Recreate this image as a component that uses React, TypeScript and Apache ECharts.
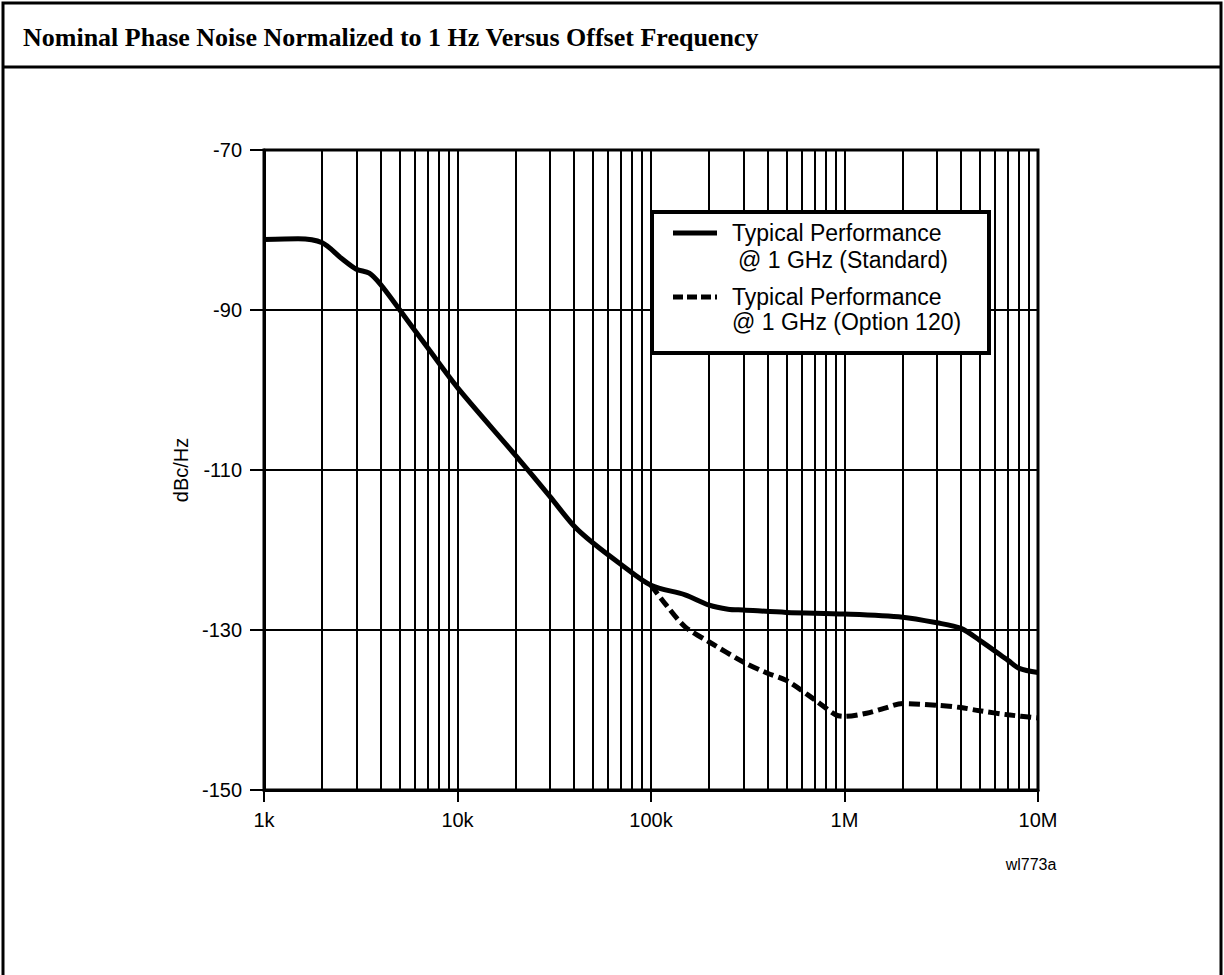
import React, { useEffect, useRef } from "react";
import * as echarts from "echarts";

const titleText = "Nominal Phase Noise Normalized to 1 Hz Versus Offset Frequency";
const yAxisName = "dBc/Hz";
const figureId = "wl773a";

const xTickValues = [1e3, 1e4, 1e5, 1e6, 1e7];
const xTickLabels = ["1k", "10k", "100k", "1M", "10M"];
const yLabelValues = [-150, -130, -110, -90, -70];
const minorFreqs = [
  2e3, 3e3, 4e3, 5e3, 6e3, 7e3, 8e3, 9e3,
  2e4, 3e4, 4e4, 5e4, 6e4, 7e4, 8e4, 9e4,
  2e5, 3e5, 4e5, 5e5, 6e5, 7e5, 8e5, 9e5,
  2e6, 3e6, 4e6, 5e6, 6e6, 7e6, 8e6, 9e6,
];

const stdName = "Typical Performance\n @ 1 GHz (Standard)";
const optName = "Typical Performance\n@ 1 GHz (Option 120)";

const stdFreq = [
  1000, 1500, 2000, 2500, 3000, 3500, 4000, 5000, 7000, 10000, 20000, 30000,
  40000, 50000, 70000, 100000, 150000, 200000, 250000, 300000, 500000, 1e6,
  2e6, 3e6, 4e6, 5e6, 7e6, 8e6, 1e7,
];
const stdValues = [
  -81.2, -81.1, -81.6, -83.5, -84.9, -85.4, -86.8, -89.9, -94.7, -99.7, -108.2,
  -113.3, -117.0, -119.1, -121.8, -124.4, -125.6, -126.9, -127.4, -127.5,
  -127.8, -128.0, -128.4, -129.1, -129.8, -131.3, -133.8, -134.8, -135.3,
];

const optFreq = [
  100000, 120000, 150000, 200000, 300000, 400000, 500000, 700000, 900000, 1e6,
  1.3e6, 1.6e6, 2e6, 3e6, 4e6, 5e6, 7e6, 1e7,
];
const optValues = [
  -124.4, -126.9, -129.6, -131.5, -134.0, -135.4, -136.3, -138.7, -140.6,
  -140.8, -140.4, -139.8, -139.2, -139.4, -139.7, -140.1, -140.6, -141.0,
];

const FONT = "'Liberation Sans', Arial, sans-serif";

export default function App() {
  const ref = useRef<HTMLDivElement>(null);

  useEffect(() => {
    if (!ref.current) return;
    const chart = echarts.init(ref.current, undefined, { renderer: "svg" });

    const option: any = {
      animation: false,
      backgroundColor: "#fff",
      title: {
        text: titleText,
        left: 18,
        top: 19,
        textStyle: {
          fontFamily: "'Liberation Serif', 'Times New Roman', serif",
          fontWeight: "bold",
          fontSize: 26,
          color: "#000",
        },
      },
      grid: {
        left: 264,
        top: 150,
        width: 774,
        height: 640,
        show: true,
        borderColor: "#000",
        borderWidth: 3,
        backgroundColor: "transparent",
      },
      xAxis: {
        type: "log",
        logBase: 10,
        min: 1000,
        max: 1e7,
        axisLine: { show: true, lineStyle: { color: "#000", width: 3 } },
        axisTick: { show: true, length: 12, lineStyle: { color: "#000", width: 2 } },
        axisLabel: {
          color: "#000",
          fontFamily: FONT,
          fontSize: 20,
          margin: 20,
          formatter: (v: number) => {
            const i = xTickValues.findIndex((t) => Math.abs(Math.log10(t) - Math.log10(v)) < 1e-6);
            return i >= 0 ? xTickLabels[i] : "";
          },
        },
        splitLine: { show: true, lineStyle: { color: "#000", width: 2 } },
      },
      yAxis: {
        type: "value",
        min: -150,
        max: -70,
        interval: 10,
        name: yAxisName,
        nameLocation: "middle",
        nameGap: 67,
        nameRotate: 90,
        nameTextStyle: { color: "#000", fontFamily: FONT, fontSize: 20 },
        axisLine: { show: true, lineStyle: { color: "#000", width: 3 } },
        axisTick: {
          show: true,
          length: 14,
          customValues: yLabelValues,
          lineStyle: { color: "#000", width: 2 },
        },
        axisLabel: {
          color: "#000",
          fontFamily: FONT,
          fontSize: 20,
          margin: 22,
          customValues: yLabelValues,
        },
        splitLine: { show: true, lineStyle: { color: "#000", width: 2 } },
      },
      series: [
        {
          type: "line",
          name: "minor-grid",
          data: [],
          z: 1,
          silent: true,
          markLine: {
            silent: true,
            symbol: ["none", "none"],
            label: { show: false },
            lineStyle: { color: "#000", width: 2, type: "solid" },
            emphasis: { disabled: true },
            data: minorFreqs.map((f) => ({ xAxis: f })),
          },
        },
        {
          type: "line",
          name: stdName,
          data: stdFreq.map((f, i) => [f, stdValues[i]]),
          showSymbol: false,
          smooth: 0.3,
          z: 5,
          lineStyle: { color: "#000", width: 5 },
        },
        {
          type: "line",
          name: optName,
          data: optFreq.map((f, i) => [f, optValues[i]]),
          showSymbol: false,
          smooth: 0.3,
          z: 5,
          lineStyle: { color: "#000", width: 5, type: [11, 5] },
        },
      ],
      graphic: [
        {
          type: "rect",
          shape: { x: 3, y: 3, width: 1218, height: 1000 },
          style: { fill: "none", stroke: "#000", lineWidth: 3 },
          z: 50,
          silent: true,
        },
        {
          type: "line",
          shape: { x1: 3, y1: 67, x2: 1221, y2: 67 },
          style: { stroke: "#000", lineWidth: 3 },
          z: 50,
          silent: true,
        },
        {
          type: "group",
          z: 100,
          children: [
            {
              type: "rect",
              shape: { x: 652, y: 212, width: 337, height: 141 },
              style: { fill: "#fff", stroke: "#000", lineWidth: 4 },
              z: 100,
            },
            {
              type: "line",
              shape: { x1: 673, y1: 233, x2: 717, y2: 233 },
              style: { stroke: "#000", lineWidth: 5 },
              z: 101,
            },
            {
              type: "line",
              shape: { x1: 673, y1: 297, x2: 717, y2: 297 },
              style: { stroke: "#000", lineWidth: 5, lineDash: [10, 4] },
              z: 101,
            },
            {
              type: "text",
              x: 732,
              y: 233,
              z: 101,
              style: { text: "Typical Performance", fill: "#000", font: `23px ${FONT}`, verticalAlign: "middle", align: "left" },
            },
            {
              type: "text",
              x: 738,
              y: 260,
              z: 101,
              style: { text: "@ 1 GHz (Standard)", fill: "#000", font: `23px ${FONT}`, verticalAlign: "middle", align: "left" },
            },
            {
              type: "text",
              x: 732,
              y: 297,
              z: 101,
              style: { text: "Typical Performance", fill: "#000", font: `23px ${FONT}`, verticalAlign: "middle", align: "left" },
            },
            {
              type: "text",
              x: 732,
              y: 322,
              z: 101,
              style: { text: "@ 1 GHz (Option 120)", fill: "#000", font: `23px ${FONT}`, verticalAlign: "middle", align: "left" },
            },
          ],
        },
        {
          type: "text",
          x: 1031,
          y: 864,
          z: 50,
          style: { text: figureId, fill: "#000", font: `16px ${FONT}`, align: "center", verticalAlign: "middle" },
        },
      ],
    };

    chart.setOption(option);
    return () => chart.dispose();
  }, []);

  return (
    <div
      ref={ref}
      style={{ position: "absolute", left: 0, top: 0, width: 1224, height: 975 }}
    />
  );
}
